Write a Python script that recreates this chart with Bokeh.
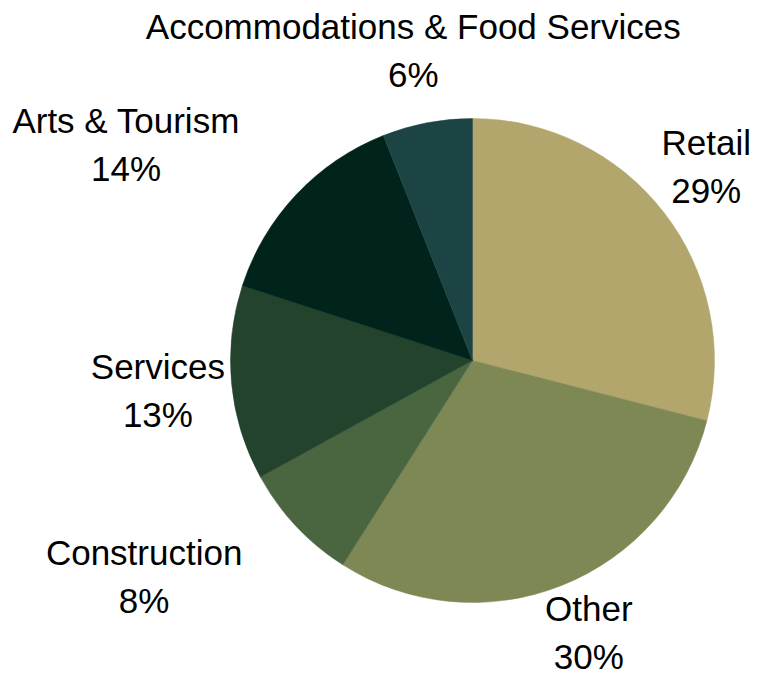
import math
from bokeh.plotting import figure
from bokeh.models import Range1d, ColumnDataSource
from bokeh.core.properties import value
from bokeh.embed import file_html
from bokeh.resources import INLINE

categories = ["Retail", "Other", "Construction", "Services", "Arts & Tourism", "Accommodations & Food Services"]
shares = [29, 30, 8, 13, 14, 6]
colors = ["#b3a66d", "#7e8855", "#4a6640", "#23432d", "#00241b", "#1d4444"]

# label layout (nudges keep left labels' blocks clear of the pie and texts inside the canvas)
nudge_x = [-16, 0, -98, 0, -116, 0]
nudge_y = [0, 22, 0, 0, 0, 0]

W, H = 753, 677
cx, cy, r = 472, H - 360, 242
label_r = 316

total = float(sum(shares))
starts, ends, lx, ly, names, pcts = [], [], [], [], [], []
cum = 0.0
for i, (cat, s) in enumerate(zip(categories, shares)):
    a0 = cum / total
    a1 = (cum + s) / total
    starts.append(math.pi / 2 - 2 * math.pi * a0)
    ends.append(math.pi / 2 - 2 * math.pi * a1)
    mid = 2 * math.pi * (a0 + a1) / 2
    lx.append(cx + label_r * math.sin(mid) + nudge_x[i])
    ly.append(cy + label_r * math.cos(mid) + nudge_y[i])
    names.append(cat)
    pcts.append(f"{s}%")
    cum += s

src = ColumnDataSource(dict(start=starts, end=ends, color=colors, x=lx, y=ly,
                            name=names, pct=pcts))

p = figure(width=W, height=H, output_backend="svg", toolbar_location=None,
           x_range=Range1d(0, W), y_range=Range1d(0, H), min_border=0)
p.axis.visible = False
p.grid.visible = False
p.outline_line_color = None

p.wedge(x=cx, y=cy, radius=r, start_angle="start", end_angle="end", direction="clock",
        fill_color="color", line_color="color", line_width=0.5, source=src)

font = value("Liberation Sans")
p.text(x="x", y="y", text="name", text_align="center", text_baseline="middle",
       y_offset=-24, text_font=font, text_font_size="35px", text_color="#000000", source=src)
p.text(x="x", y="y", text="pct", text_align="center", text_baseline="middle",
       y_offset=24, text_font=font, text_font_size="35px", text_color="#000000", source=src)

open("out.html", "w").write(file_html(p, INLINE))
